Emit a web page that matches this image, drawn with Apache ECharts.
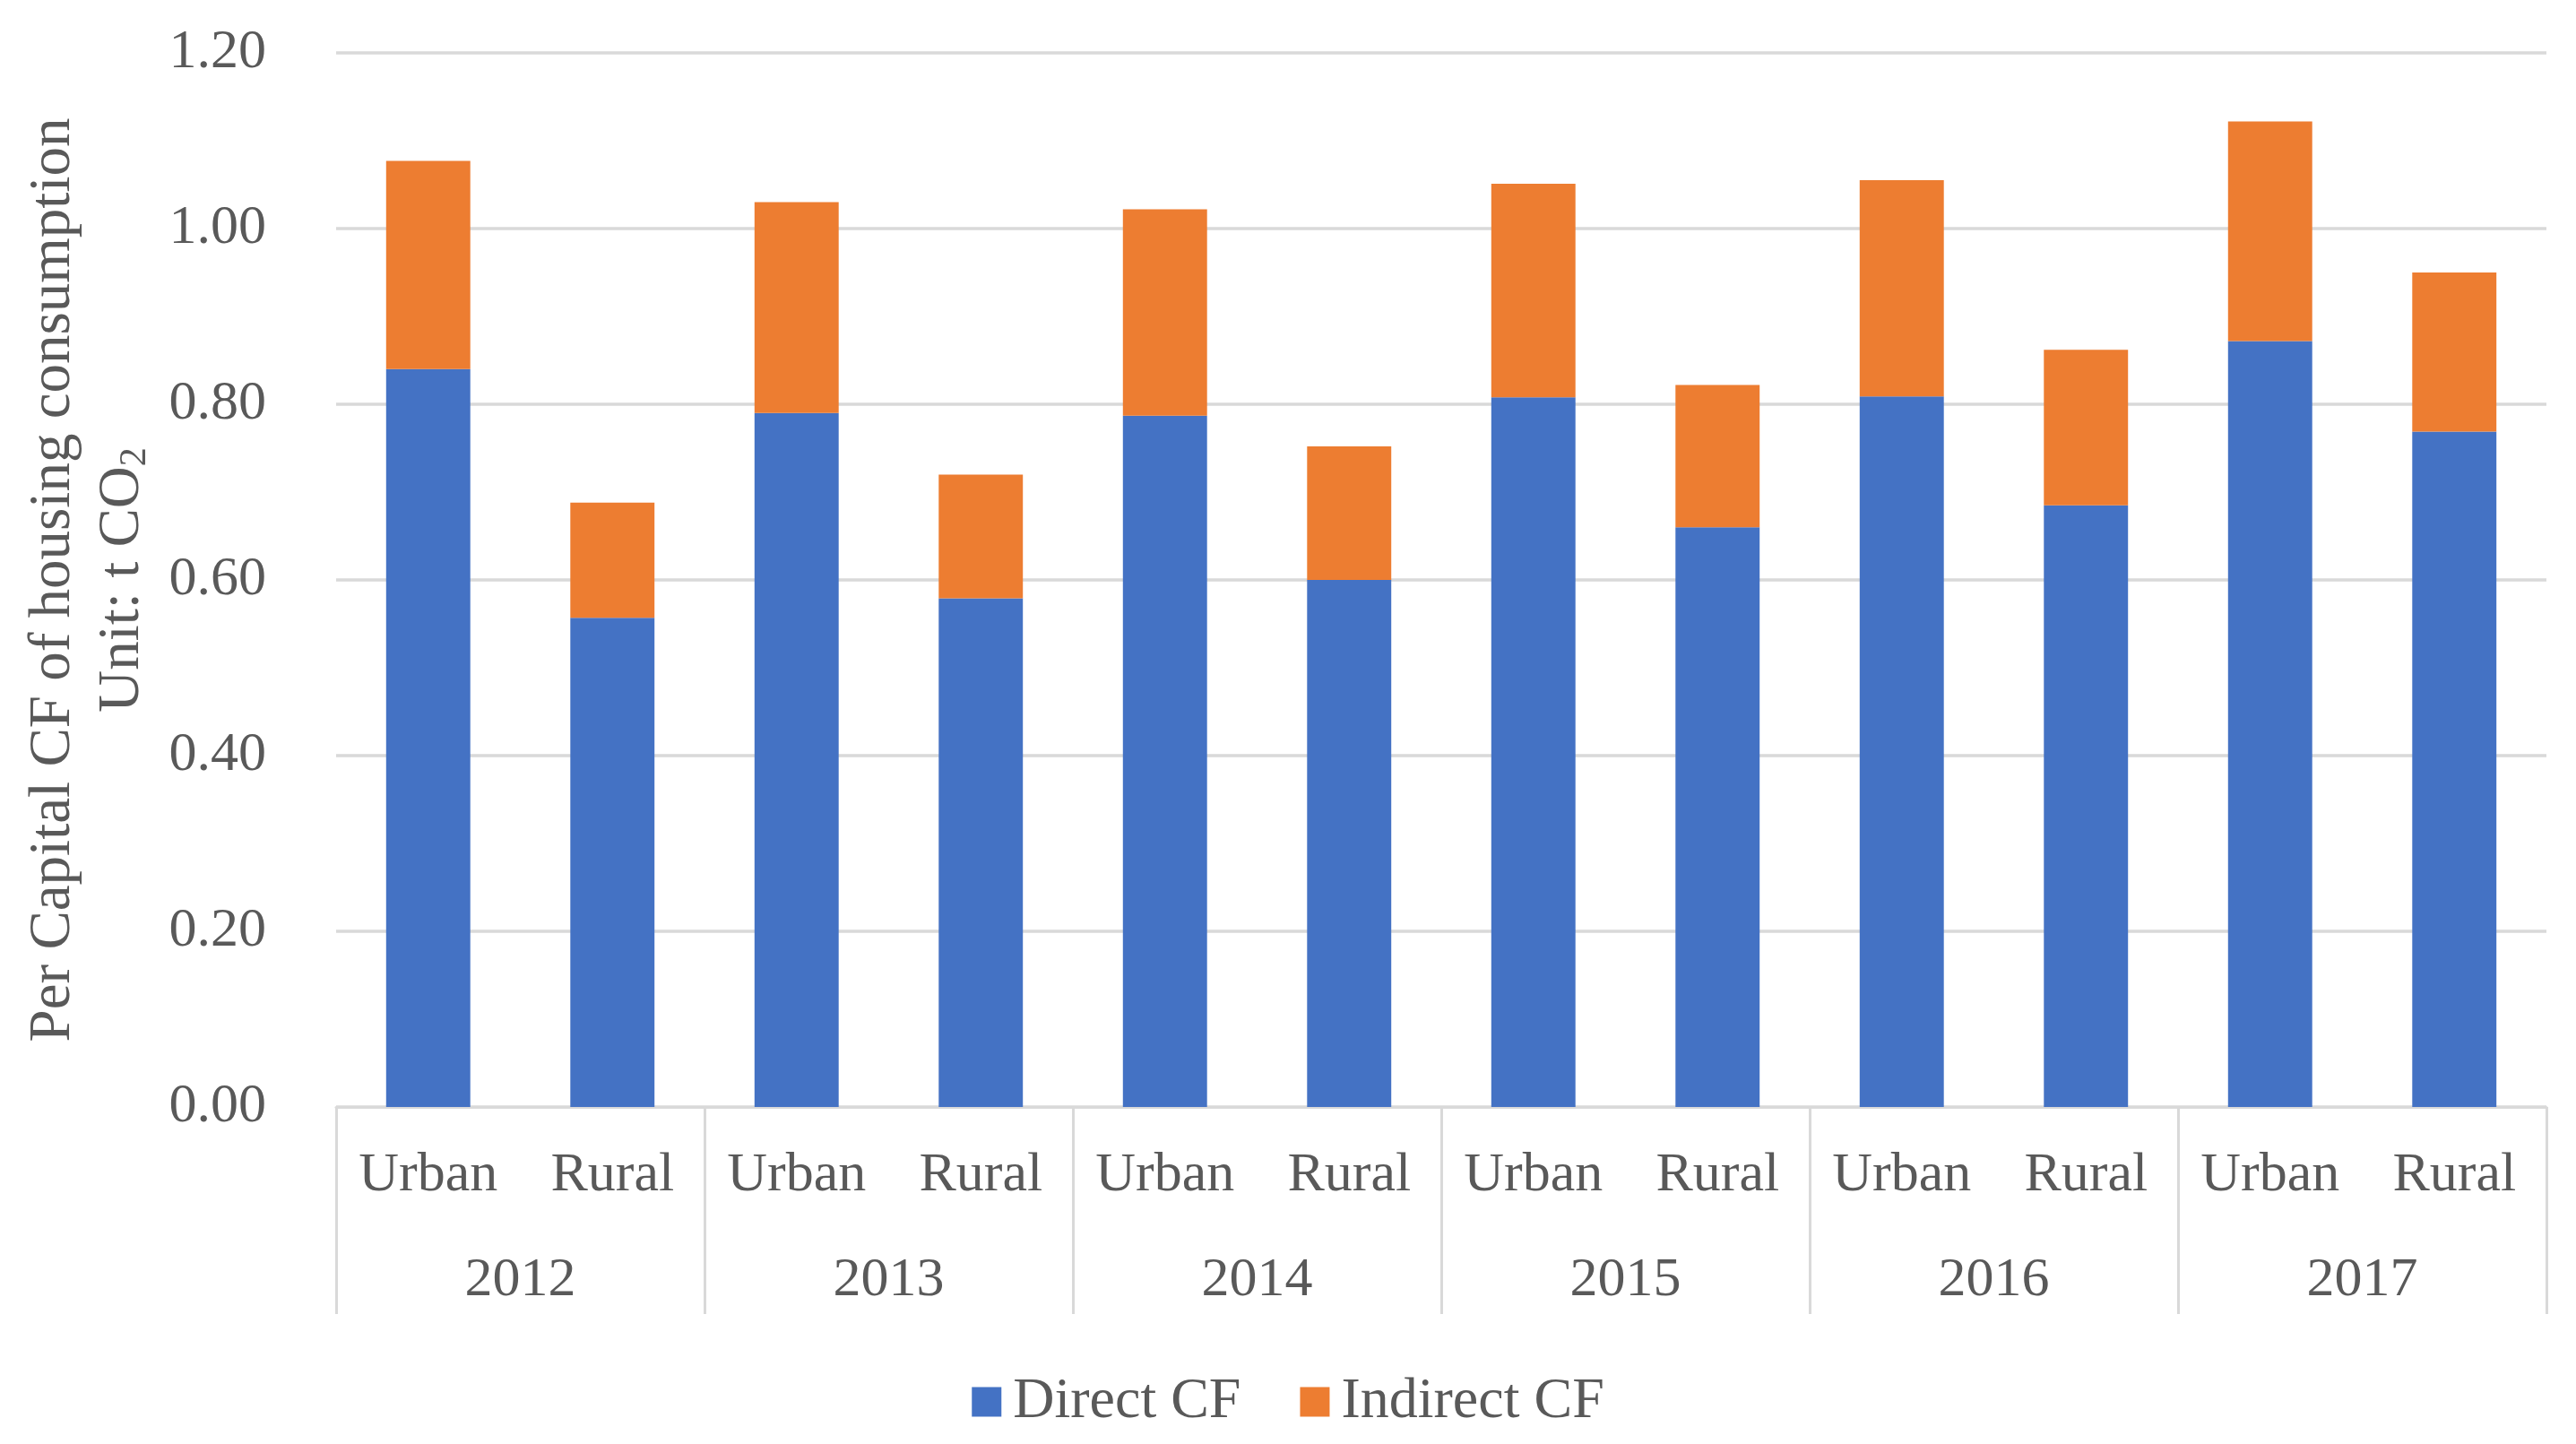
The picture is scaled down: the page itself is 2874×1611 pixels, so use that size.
<!DOCTYPE html>
<html>
<head>
<meta charset="utf-8">
<script src="https://cdn.jsdelivr.net/npm/echarts@6/dist/echarts.min.js"></script>
<style>
html,body{margin:0;padding:0;background:#fff;}
#chart{width:2874px;height:1611px;}
</style>
</head>
<body>
<div id="chart"></div>
<script>
const categories = ['Urban','Rural','Urban','Rural','Urban','Rural','Urban','Rural','Urban','Rural','Urban','Rural'];
const years = ['2012','2013','2014','2015','2016','2017'];
const directCF = [0.84, 0.557, 0.79, 0.579, 0.787, 0.60, 0.808, 0.66, 0.809, 0.685, 0.872, 0.769];
const indirectCF = [0.237, 0.131, 0.240, 0.141, 0.235, 0.152, 0.243, 0.162, 0.246, 0.177, 0.250, 0.181];
const yTicks = [0, 0.2, 0.4, 0.6, 0.8, 1.0, 1.2];

const FONT = '"Liberation Serif", "Times New Roman", serif';
const TXT = '#595959';
const LINE = '#D9D9D9';

const chart = echarts.init(document.getElementById('chart'));
chart.setOption({
  animation: false,
  backgroundColor: '#ffffff',
  textStyle: { fontFamily: FONT },
  grid: { left: 375, right: 33, top: 59, bottom: 376, containLabel: false },
  legend: {
    data: ['Direct CF', 'Indirect CF'],
    top: 1527,
    left: 'center',
    icon: 'rect',
    itemWidth: 33,
    itemHeight: 33,
    itemGap: 66,
    textStyle: { fontFamily: FONT, fontSize: 64, color: TXT, padding: [0, 0, 0, 8] }
  },
  xAxis: [
    {
      type: 'category',
      data: categories,
      position: 'bottom',
      axisLine: { show: true, lineStyle: { color: LINE, width: 3 } },
      axisTick: { show: false },
      axisLabel: { interval: 0, fontFamily: FONT, fontSize: 62, color: TXT, margin: 46, lineHeight: 62 }
    },
    {
      type: 'category',
      data: years,
      position: 'bottom',
      axisLine: { show: false },
      axisTick: { show: true, interval: 0, alignWithLabel: false, length: 231, lineStyle: { color: LINE, width: 3 } },
      axisLabel: { interval: 0, fontFamily: FONT, fontSize: 62, color: TXT, margin: 163, lineHeight: 62 }
    }
  ],
  yAxis: {
    type: 'value',
    min: yTicks[0],
    max: yTicks[yTicks.length - 1],
    interval: 0.2,
    axisLine: { show: false },
    axisTick: { show: false },
    splitLine: { lineStyle: { color: LINE, width: 3.5 } },
    axisLabel: {
      fontFamily: FONT, fontSize: 62, color: TXT, margin: 78,
      formatter: v => v.toFixed(2)
    },
    name: '{a|Per Capital CF of housing consumption}\n{a|Unit: t CO}{sub|2}',
    nameLocation: 'middle',
    nameRotate: 90,
    nameGap: 200,
    nameTextStyle: {
      fontFamily: FONT, fontSize: 65, color: TXT, lineHeight: 77,
      rich: {
        a: { fontFamily: FONT, fontSize: 65, color: TXT, lineHeight: 77 },
        sub: { fontFamily: FONT, fontSize: 42, color: TXT, lineHeight: 77, padding: [28, 0, 0, 0] }
      }
    }
  },
  series: [
    {
      name: 'Direct CF',
      type: 'bar',
      stack: 'total',
      xAxisIndex: 0,
      barWidth: '45.7%',
      itemStyle: { color: '#4472C4' },
      data: directCF
    },
    {
      name: 'Indirect CF',
      type: 'bar',
      stack: 'total',
      xAxisIndex: 0,
      barWidth: '45.7%',
      itemStyle: { color: '#ED7D31' },
      data: indirectCF
    }
  ]
});
</script>
</body>
</html>
